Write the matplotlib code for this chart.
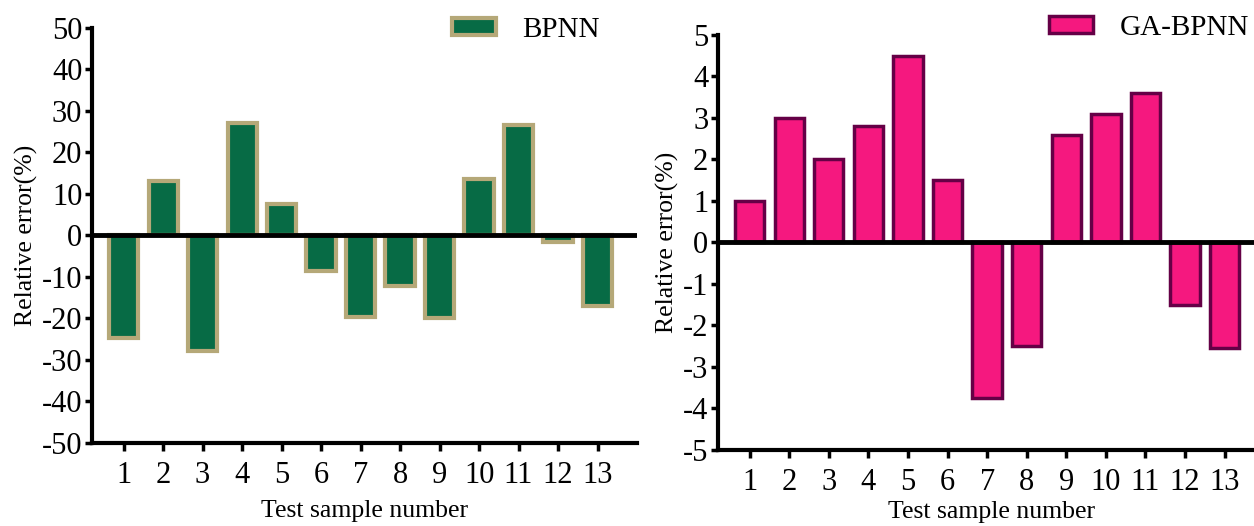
import numpy as np
import matplotlib
matplotlib.use("Agg")
import matplotlib.pyplot as plt

plt.rcParams['font.family'] = ['Liberation Serif', 'DejaVu Serif']
plt.rcParams['axes.unicode_minus'] = False

samples = np.arange(1, 14)
bpnn_err = [-24.8, 13.0, -27.8, 27.0, 7.5, -8.6, -19.6, -12.2, -19.8, 13.5, 26.7, -1.6, -16.9]
ga_bpnn_err = [1.0, 3.0, 2.0, 2.8, 4.5, 1.5, -3.75, -2.5, 2.6, 3.1, 3.6, -1.5, -2.55]
tick_labels = [str(i) for i in samples]

fig = plt.figure(figsize=(12.54, 5.26), dpi=100)
ax1 = fig.add_axes([0.0734, 0.158, 0.4346, 0.789])
ax2 = fig.add_axes([0.5726, 0.1445, 0.4355, 0.789])


def style_axes(ax, ylim, yticks, xpad):
    ax.set_xlim(0.2, 14)
    ax.set_ylim(*ylim)
    ax.set_yticks(yticks)
    ax.set_xticks(samples)
    ax.set_xticklabels(tick_labels)
    for s in ['top', 'right']:
        ax.spines[s].set_visible(False)
    for s in ['left', 'bottom']:
        ax.spines[s].set_linewidth(3)
    ax.tick_params(axis='x', length=6, width=2.5, pad=7, labelsize=22)
    ax.tick_params(axis='y', length=5, width=2.5, pad=2, labelsize=22)
    ax.axhline(0, color='black', lw=3.5, zorder=3)
    ax.set_xlabel('Test sample number', fontsize=18.5, labelpad=xpad)
    ax.set_ylabel('Relative error(%)', fontsize=18.5, labelpad=3)


ax1.bar(samples, bpnn_err, width=0.74, color='#076B45', edgecolor='#B5A878',
        linewidth=3, label='BPNN', zorder=2)
style_axes(ax1, (-50, 50), np.arange(-50, 51, 10), 7)
ax1.legend(loc='upper right', bbox_to_anchor=(0.98, 1.09), frameon=False,
           fontsize=21, handlelength=1.5, handleheight=0.55, handletextpad=0.9)

ax2.bar(samples, ga_bpnn_err, width=0.74, color='#F5187F', edgecolor='#650046',
        linewidth=2.5, label='GA-BPNN', zorder=2)
style_axes(ax2, (-5, 5), np.arange(-5, 6, 1), 2.5)
ax2.legend(loc='upper right', bbox_to_anchor=(1.02, 1.112), frameon=False,
           fontsize=21, handlelength=1.5, handleheight=0.55, handletextpad=0.9)

fig.savefig('out.png', dpi=100)
